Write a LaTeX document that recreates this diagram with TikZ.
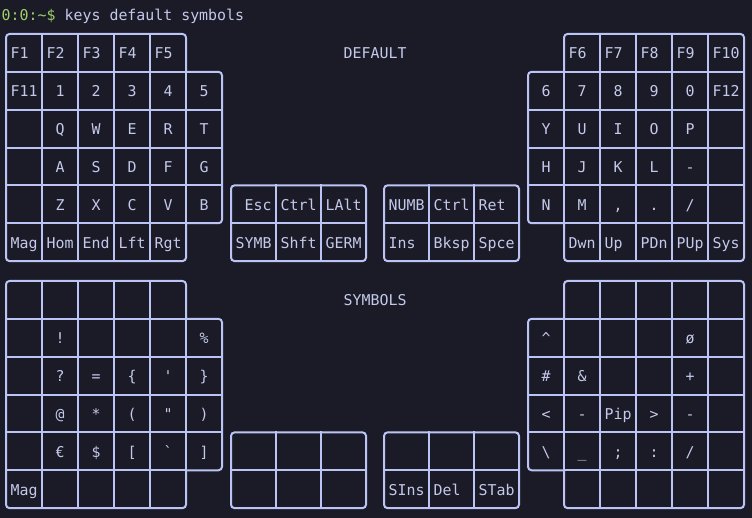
\documentclass[tikz,border=0pt]{standalone}
\usepackage{fontspec}
\setmonofont{DejaVu Sans Mono}
\definecolor{bg}{HTML}{1A1B26}
\definecolor{ln}{HTML}{BCC4F5}
\definecolor{tx}{HTML}{C4C9EC}
\definecolor{gr}{HTML}{9ECE6A}
\newcounter{kc}
\newcommand\kl[4]{\stepcounter{kc}\node[lab] (k\arabic{kc}) at ({#1+4.5+9*#3},{#2+0.6}) {#4};}
\newcommand\kbgrid{%
  % left block
  \draw[ol] (186,71.85) -- (186,34) -- (6,34) -- (6,261.1) -- (186,261.1) -- (186,223.25);
  \draw[ol] (186,223.25) -- (222,223.25) -- (222,71.85) -- (186,71.85);
  \foreach \y in {71.85,223.25} \draw[gl] (6,\y) -- (186,\y);
  \foreach \y in {109.7,147.55,185.4} \draw[gl] (6,\y) -- (222,\y);
  \foreach \x in {42,78,114,150} \draw[gl] (\x,34) -- (\x,261.1);
  \draw[gl] (186,71.85) -- (186,223.25);
  % right block
  \draw[ol] (564,71.85) -- (564,34) -- (744,34) -- (744,261.1) -- (564,261.1) -- (564,223.25);
  \draw[ol] (564,223.25) -- (528,223.25) -- (528,71.85) -- (564,71.85);
  \foreach \y in {71.85,223.25} \draw[gl] (564,\y) -- (744,\y);
  \foreach \y in {109.7,147.55,185.4} \draw[gl] (528,\y) -- (744,\y);
  \foreach \x in {600,636,672,708} \draw[gl] (\x,34) -- (\x,261.1);
  \draw[gl] (564,71.85) -- (564,223.25);
  % thumb clusters
  \foreach \x in {231,384}{%
    \draw[ol] (\x,185.4) rectangle ++(135,75.7);
    \draw[gl] (\x,223.25) -- ++(135,0);
    \draw[gl] (\x+45,185.4) -- ++(0,75.7);
    \draw[gl] (\x+90,185.4) -- ++(0,75.7);
  }%
}
\begin{document}
\begin{tikzpicture}[x=1pt,y=-1pt,
  lab/.style={anchor=west,inner sep=0pt,text=tx,
    font=\ttfamily\fontsize{14.9pt}{18pt}\selectfont,
    text height=10.8pt,text depth=0pt},
  gl/.style={draw=ln,line width=2pt,line cap=rect},
  ol/.style={draw=ln,line width=2pt,line cap=rect,rounded corners=3.5pt}]
\fill[bg] (0,0) rectangle (752,518);
\useasboundingbox (0,0) rectangle (752,518);

% header
\node[lab,text=gr] (prompt) at (1.5,15.4) {0:0:\textasciitilde\$};
\node[lab] (cmd) at (64.5,15.4) {keys default symbols};

% titles
\node[lab] (tdef) at (343.5,53.5) {DEFAULT};
\node[lab] (tsym) at (343.5,300.5) {SYMBOLS};

% grids
\kbgrid
\begin{scope}[yshift=-247pt]
\kbgrid
\end{scope}

% ---- DEFAULT left
\kl{6}{52.93}{0}{F1}\kl{42}{52.93}{0}{F2}\kl{78}{52.93}{0}{F3}\kl{114}{52.93}{0}{F4}\kl{150}{52.93}{0}{F5}
\kl{6}{90.78}{0}{F11}\kl{42}{90.78}{1}{1}\kl{78}{90.78}{1}{2}\kl{114}{90.78}{1}{3}\kl{150}{90.78}{1}{4}\kl{186}{90.78}{1}{5}
\kl{42}{128.63}{1}{Q}\kl{78}{128.63}{1}{W}\kl{114}{128.63}{1}{E}\kl{150}{128.63}{1}{R}\kl{186}{128.63}{1}{T}
\kl{42}{166.48}{1}{A}\kl{78}{166.48}{1}{S}\kl{114}{166.48}{1}{D}\kl{150}{166.48}{1}{F}\kl{186}{166.48}{1}{G}
\kl{42}{204.33}{1}{Z}\kl{78}{204.33}{1}{X}\kl{114}{204.33}{1}{C}\kl{150}{204.33}{1}{V}\kl{186}{204.33}{1}{B}
\kl{6}{242.18}{0}{Mag}\kl{42}{242.18}{0}{Hom}\kl{78}{242.18}{0}{End}\kl{114}{242.18}{0}{Lft}\kl{150}{242.18}{0}{Rgt}

% ---- DEFAULT right
\kl{564}{52.93}{0}{F6}\kl{600}{52.93}{0}{F7}\kl{636}{52.93}{0}{F8}\kl{672}{52.93}{0}{F9}\kl{708}{52.93}{0}{F10}
\kl{528}{90.78}{1}{6}\kl{564}{90.78}{1}{7}\kl{600}{90.78}{1}{8}\kl{636}{90.78}{1}{9}\kl{672}{90.78}{1}{0}\kl{708}{90.78}{0}{F12}
\kl{528}{128.63}{1}{Y}\kl{564}{128.63}{1}{U}\kl{600}{128.63}{1}{I}\kl{636}{128.63}{1}{O}\kl{672}{128.63}{1}{P}
\kl{528}{166.48}{1}{H}\kl{564}{166.48}{1}{J}\kl{600}{166.48}{1}{K}\kl{636}{166.48}{1}{L}\kl{672}{166.48}{1}{-}
\kl{528}{204.33}{1}{N}\kl{564}{204.33}{1}{M}\kl{600}{204.33}{1}{,}\kl{636}{204.33}{1}{.}\kl{672}{204.33}{1}{/}
\kl{564}{242.18}{0}{Dwn}\kl{600}{242.18}{0}{Up}\kl{636}{242.18}{0}{PDn}\kl{672}{242.18}{0}{PUp}\kl{708}{242.18}{0}{Sys}

% ---- DEFAULT thumbs
\kl{231}{204.33}{1}{Esc}\kl{276}{204.33}{0}{Ctrl}\kl{321}{204.33}{0}{LAlt}
\kl{231}{242.18}{0}{SYMB}\kl{276}{242.18}{0}{Shft}\kl{321}{242.18}{0}{GERM}
\kl{384}{204.33}{0}{NUMB}\kl{429}{204.33}{0}{Ctrl}\kl{474}{204.33}{0}{Ret}
\kl{384}{242.18}{0}{Ins}\kl{429}{242.18}{0}{Bksp}\kl{474}{242.18}{0}{Spce}

% ---- SYMBOLS left
\kl{42}{337.78}{1}{!}\kl{186}{337.78}{1}{\%}
\kl{42}{375.63}{1}{?}\kl{78}{375.63}{1}{=}\kl{114}{375.63}{1}{\{}\kl{150}{375.63}{1}{'}\kl{186}{375.63}{1}{\}}
\kl{42}{413.48}{1}{@}\kl{78}{413.48}{1}{*}\kl{114}{413.48}{1}{(}\kl{150}{413.48}{1}{"}\kl{186}{413.48}{1}{)}
\kl{42}{451.33}{1}{€}\kl{78}{451.33}{1}{\$}\kl{114}{451.33}{1}{[}\kl{150}{451.33}{1}{`}\kl{186}{451.33}{1}{]}
\kl{6}{489.18}{0}{Mag}

% ---- SYMBOLS right
\kl{528}{337.78}{1}{\textasciicircum}\kl{672}{337.78}{1}{ø}
\kl{528}{375.63}{1}{\#}\kl{564}{375.63}{1}{\&}\kl{672}{375.63}{1}{+}
\kl{528}{413.48}{1}{<}\kl{564}{413.48}{1}{-}\kl{600}{413.48}{0}{Pip}\kl{636}{413.48}{1}{>}\kl{672}{413.48}{1}{-}
\kl{528}{451.33}{1}{\textbackslash}\kl{564}{451.33}{1}{\_}\kl{600}{451.33}{1}{;}\kl{636}{451.33}{1}{:}\kl{672}{451.33}{1}{/}

% ---- SYMBOLS thumbs
\kl{384}{489.18}{0}{SIns}\kl{429}{489.18}{0}{Del}\kl{474}{489.18}{0}{STab}
\end{tikzpicture}
\end{document}
